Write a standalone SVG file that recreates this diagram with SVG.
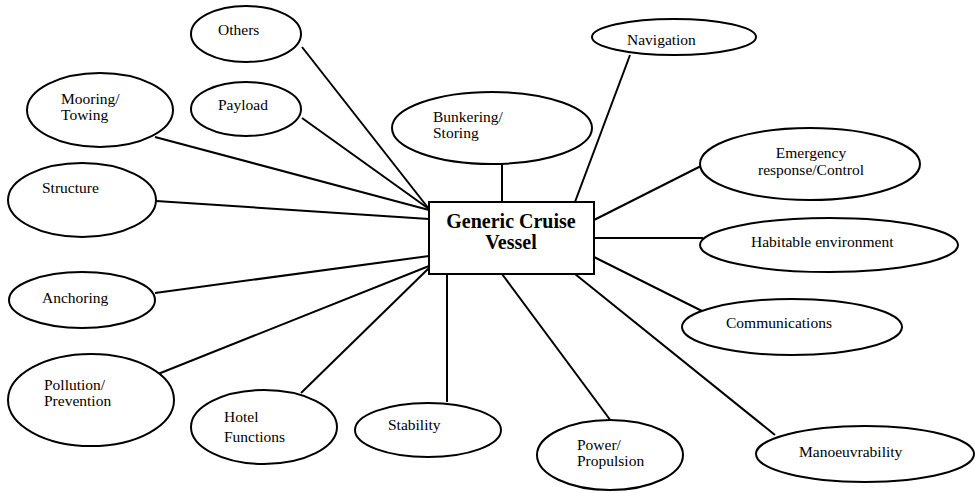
<svg xmlns="http://www.w3.org/2000/svg" width="975" height="493" viewBox="0 0 975 493">
<style>
ellipse{fill:#fff;stroke:#000;stroke-width:2}
.box{fill:#fff;stroke:#000;stroke-width:2}
.c line{stroke:#000;stroke-width:2}
text{font-family:"Liberation Serif","Times New Roman",serif;font-size:15.5px;fill:#000}
.t{font-weight:bold;font-size:20px;text-anchor:middle}
.m{text-anchor:middle}
</style>
<rect width="975" height="493" fill="#fff"/>
<g class="c" id="connectors">
<line x1="302" y1="47" x2="429" y2="209"/>
<line x1="302" y1="118" x2="429" y2="209"/>
<line x1="155" y1="137" x2="429" y2="210"/>
<line x1="156" y1="201" x2="429" y2="219"/>
<line x1="502" y1="164" x2="502" y2="202"/>
<line x1="630" y1="55" x2="575" y2="202"/>
<line x1="701" y1="166" x2="594" y2="220"/>
<line x1="594" y1="238" x2="703" y2="238"/>
<line x1="594" y1="257" x2="702" y2="311"/>
<line x1="575" y1="274" x2="775" y2="435"/>
<line x1="502" y1="274" x2="611" y2="421"/>
<line x1="447" y1="274" x2="447" y2="402"/>
<line x1="429" y1="268" x2="301" y2="393"/>
<line x1="429" y1="266" x2="158" y2="374"/>
<line x1="429" y1="256" x2="155" y2="293"/>
</g>
<g id="center"><rect class="box" x="429" y="202" width="165" height="72"/><text class="t" x="511" y="228">Generic Cruise</text><text class="t" x="511" y="249">Vessel</text></g>
<g id="others"><ellipse cx="246" cy="34" rx="55" ry="28"/><text x="218" y="35">Others</text></g>
<g id="mooring"><ellipse cx="100" cy="110" rx="73" ry="37"/><text x="61" y="104">Mooring/</text><text x="61" y="120">Towing</text></g>
<g id="payload"><ellipse cx="246" cy="109" rx="55" ry="27"/><text x="218" y="110">Payload</text></g>
<g id="structure"><ellipse cx="82" cy="200" rx="74" ry="37"/><text x="42" y="193">Structure</text></g>
<g id="bunkering"><ellipse cx="492" cy="128" rx="100" ry="36"/><text x="433" y="122">Bunkering/</text><text x="433" y="138">Storing</text></g>
<g id="navigation"><ellipse cx="674" cy="37" rx="82" ry="18"/><text x="627" y="45">Navigation</text></g>
<g id="emergency"><ellipse cx="810" cy="164" rx="110" ry="36"/><text class="m" x="811" y="158">Emergency</text><text class="m" x="811" y="175">response/Control</text></g>
<g id="habitable"><ellipse cx="829" cy="245" rx="129" ry="27"/><text x="751" y="247">Habitable environment</text></g>
<g id="communications"><ellipse cx="792" cy="327" rx="110" ry="28"/><text x="726" y="328">Communications</text></g>
<g id="manoeuvrability"><ellipse cx="865" cy="454" rx="109" ry="28"/><text x="799" y="457">Manoeuvrability</text></g>
<g id="anchoring"><ellipse cx="82" cy="300" rx="73" ry="28"/><text x="42" y="303">Anchoring</text></g>
<g id="pollution"><ellipse cx="91" cy="400" rx="83" ry="46"/><text x="44" y="390">Pollution/</text><text x="44" y="406">Prevention</text></g>
<g id="hotel"><ellipse cx="264" cy="427" rx="73" ry="37"/><text x="224" y="422">Hotel</text><text x="224" y="442">Functions</text></g>
<g id="stability"><ellipse cx="428" cy="430" rx="73" ry="27"/><text x="388" y="430">Stability</text></g>
<g id="power"><ellipse cx="610" cy="455" rx="73" ry="35"/><text x="577" y="450">Power/</text><text x="577" y="466">Propulsion</text></g>
</svg>
